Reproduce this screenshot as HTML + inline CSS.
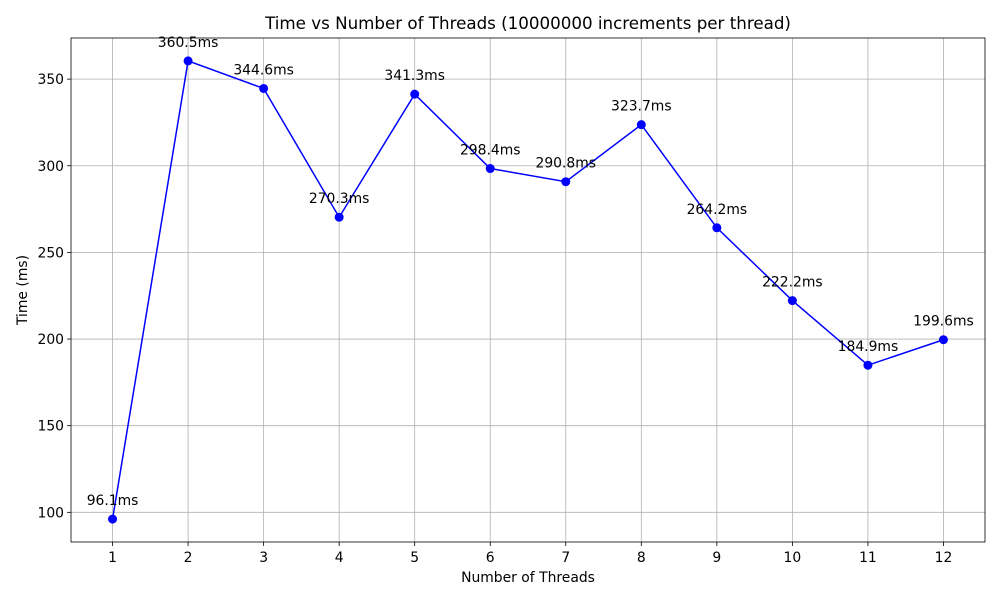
<!DOCTYPE html>
<html><head><meta charset="utf-8"><style>
body{margin:0;background:#fff;}
svg text{font-family:"DejaVu Sans","Liberation Sans",sans-serif;}
</style></head><body>
<svg id="chart" width="1000" height="600" xmlns="http://www.w3.org/2000/svg"></svg>
<script>
const categories=[1,2,3,4,5,6,7,8,9,10,11,12];
const times=[96.1,360.5,344.6,270.3,341.3,298.4,290.8,323.7,264.2,222.2,184.9,199.6];
const yTicks=[100,150,200,250,300,350];
const L=71,R=985,T=38,B=542;
const xmin=0.45,xmax=12.55;
const dmin=Math.min(...times),dmax=Math.max(...times),m=(dmax-dmin)*0.05;
const ymin=dmin-m,ymax=dmax+m;
const sx=v=>L+(v-xmin)/(xmax-xmin)*(R-L);
const sy=v=>B-(v-ymin)/(ymax-ymin)*(B-T);
const svg=document.getElementById('chart');
const NS='http://www.w3.org/2000/svg';
function mk(t,a,p){const e=document.createElementNS(NS,t);for(const k in a)e.setAttribute(k,a[k]);(p||svg).appendChild(e);return e;}
const grid=mk('g',{});


categories.forEach(c=>{
  const x=sx(c);
  mk('line',{x1:x,x2:x,y1:T,y2:B,stroke:'#b0b0b0','stroke-width':0.8},grid);
  mk('line',{x1:x,x2:x,y1:B,y2:B+4,stroke:'#000','stroke-width':0.8});
  const t=mk('text',{x:x,y:B+20,'font-size':13.9,'text-anchor':'middle'});t.textContent=c;
  
  
});
yTicks.forEach(v=>{
  const y=sy(v);
  mk('line',{x1:L,x2:R,y1:y,y2:y,stroke:'#b0b0b0','stroke-width':0.8},grid);
  mk('line',{x1:L-4,x2:L,y1:y,y2:y,stroke:'#000','stroke-width':0.8});
  const t=mk('text',{x:L-7,y:y+5,'font-size':13.9,'text-anchor':'end'});t.textContent=v;
  
  
});
const frame=mk('rect',{x:L,y:T,width:R-L,height:B-T,fill:'none',stroke:'#000','stroke-width':0.8});


const line=mk('polyline',{points:categories.map((c,i)=>sx(c)+','+sy(times[i])).join(' '),fill:'none',stroke:'#0000ff','stroke-width':1.5});


categories.forEach((c,i)=>{
  const p=mk('circle',{cx:sx(c),cy:sy(times[i]),r:4.5,fill:'#0000ff'});
  
  
  const t=mk('text',{x:sx(c),y:sy(times[i])-14,'font-size':13.9,'text-anchor':'middle'});
  t.textContent=times[i].toFixed(1)+'ms';
  
  
});
let t=mk('text',{x:(L+R)/2,y:29,'font-size':16.7,'text-anchor':'middle'});t.textContent='Time vs Number of Threads (10000000 increments per thread)';


t=mk('text',{x:(L+R)/2,y:582,'font-size':13.9,'text-anchor':'middle'});t.textContent='Number of Threads';


t=mk('text',{x:0,y:0,'font-size':13.9,'text-anchor':'middle',transform:'translate(27,'+((T+B)/2)+') rotate(-90)'});t.textContent='Time (ms)';


</script>
</body></html>
